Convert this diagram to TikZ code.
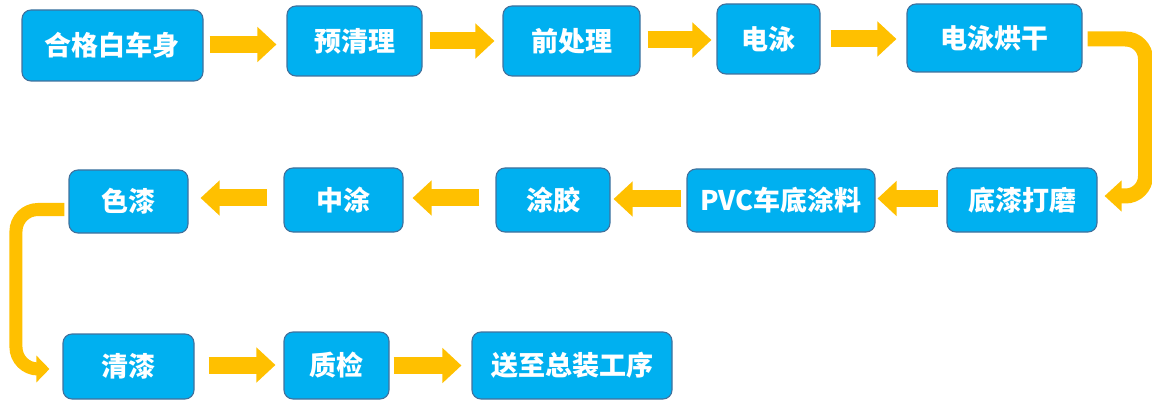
\documentclass[tikz,border=0pt]{standalone}
\usepackage{fontspec}
\newfontfamily\cjk{Noto Sans CJK SC}
\usetikzlibrary{arrows.meta}
\definecolor{boxfill}{HTML}{00B0F0}
\definecolor{boxline}{HTML}{41719C}
\definecolor{arrowc}{HTML}{FFC000}
\tikzset{
  box/.style={rectangle, rounded corners=9pt, draw=boxline, line width=1.1pt,
    fill=boxfill, text=white, inner sep=0pt,
    font=\cjk\bfseries\fontsize{27}{27}\selectfont},
  flowarrow/.style={draw=arrowc, line width=17pt,
    -{Triangle[width=34pt,length=19pt]}},
  bendarrow/.style={draw=arrowc, rounded corners=20pt,
    -{Triangle[width=30pt,length=17pt]}}
}
\begin{document}
\begin{tikzpicture}[x=1pt,y=-1pt]
\useasboundingbox (0,0) rectangle (1152,401);
% row 1
\node[box, minimum width=181pt, minimum height=71pt] (n1) at (112.5,45.5) {合格白车身};
\node[box, minimum width=135pt, minimum height=70pt] (n2) at (354.5,41) {预清理};
\node[box, minimum width=137pt, minimum height=70pt] (n3) at (571.5,41) {前处理};
\node[box, minimum width=103pt, minimum height=70pt] (n4) at (768.5,39) {电泳};
\node[box, minimum width=175pt, minimum height=68pt] (n5) at (994.5,38) {电泳烘干};
% row 2
\node[box, minimum width=150pt, minimum height=64pt] (n6) at (1022,200) {底漆打磨};
\node[box, minimum width=188pt, minimum height=63pt] (n7) at (781,200.5) {PVC车底涂料};
\node[box, minimum width=114pt, minimum height=64pt] (n8) at (553,200) {涂胶};
\node[box, minimum width=119pt, minimum height=64pt] (n9) at (343.5,200) {中涂};
\node[box, minimum width=119pt, minimum height=63pt] (n10) at (128.5,201.5) {色漆};
% row 3
\node[box, minimum width=131pt, minimum height=65pt] (n11) at (128.5,366.5) {清漆};
\node[box, minimum width=105pt, minimum height=67pt] (n12) at (336.5,365.5) {质检};
\node[box, minimum width=200pt, minimum height=67pt] (n13) at (572,365.5) {送至总装工序};
% straight arrows
\draw[flowarrow, shorten <=6pt, shorten >=10pt] ([yshift=1pt]n1.east) -- ([yshift=1pt]n1.east -| n2.west);
\draw[flowarrow, shorten <=7pt, shorten >=8pt] (n2.east) -- (n2.east -| n3.west);
\draw[flowarrow, shorten <=7pt, shorten >=5pt] ([yshift=1pt]n3.east) -- ([yshift=1pt]n3.east -| n4.west);
\draw[flowarrow, shorten <=10pt, shorten >=10pt] (n4.east) -- (n4.east -| n5.west);
\draw[flowarrow, shorten <=8pt, shorten >=2pt] ([yshift=1.5pt]n6.west) -- ([yshift=1.5pt]n6.west -| n7.east);
\draw[flowarrow, shorten <=5pt, shorten >=3pt] ([yshift=1.5pt]n7.west) -- ([yshift=1.5pt]n7.west -| n8.east);
\draw[flowarrow, shorten <=16pt, shorten >=9pt] ([yshift=2pt]n8.west) -- ([yshift=2pt]n8.west -| n9.east);
\draw[flowarrow, shorten <=16pt, shorten >=12pt] ([yshift=2pt]n9.west) -- ([yshift=2pt]n9.west -| n10.east);
\draw[flowarrow, shorten <=14pt, shorten >=8pt] ([yshift=1.5pt]n11.east) -- ([yshift=1.5pt]n11.east -| n12.west);
\draw[flowarrow, shorten <=4pt, shorten >=10pt] (n12.east) -- (n12.east -| n13.west);
% bent arrows
\draw[bendarrow, line width=15pt] ([xshift=5pt,yshift=-1pt]n5.east) -- ++(58,0) |- ([xshift=7pt,yshift=4pt]n6.east);
\draw[bendarrow, line width=13pt, rounded corners=22pt, -{Triangle[width=26pt,length=13pt]}]
  ([xshift=-4pt,yshift=-8pt]n10.west) -- ++(-48.5,0) |- ([xshift=-13pt,yshift=-2.5pt]n11.west);
\end{tikzpicture}
\end{document}
